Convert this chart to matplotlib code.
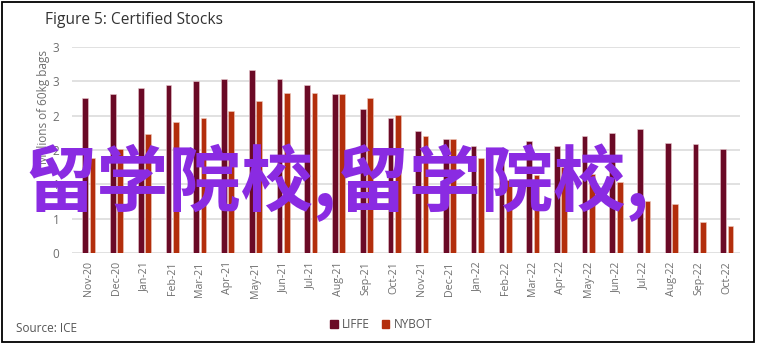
import matplotlib
matplotlib.use("Agg")
import matplotlib.pyplot as plt
import matplotlib.patches as mpatches
import numpy as np

# Certified stocks, millions of 60kg bags
months = ["Nov-20", "Dec-20", "Jan-21", "Feb-21", "Mar-21", "Apr-21", "May-21",
          "Jun-21", "Jul-21", "Aug-21", "Sep-21", "Oct-21", "Nov-21", "Dec-21",
          "Jan-22", "Feb-22", "Mar-22", "Apr-22", "May-22", "Jun-22", "Jul-22",
          "Aug-22", "Sep-22", "Oct-22"]
liffe = [2.25, 2.32, 2.40, 2.44, 2.50, 2.53, 2.67, 2.53, 2.44, 2.32, 2.09, 1.97,
         1.78, 1.66, 1.56, 1.53, 1.63, 1.56, 1.70, 1.75, 1.80, 1.60, 1.59, 1.52]
nybot = [1.39, 1.51, 1.74, 1.91, 1.97, 2.07, 2.21, 2.33, 2.33, 2.31, 2.26, 2.01,
         1.71, 1.66, 1.38, 1.07, 1.14, 1.25, 1.15, 1.04, 0.76, 0.71, 0.45, 0.40]
y_ticks = [0, 0.5, 1.0, 1.5, 2.0, 2.5, 3.0]
y_tick_labels = ["0", "1", "1", "2", "2", "3", "3"]
series_names = ["LIFFE", "NYBOT"]

LIFFE_COLOR = "#6B0A26"
NYBOT_COLOR = "#B32E0C"
GRID = "#D9D9D9"
TEXT_GREY = "#6E6E6E"
FONT = "Open Sans"

W, H = 758, 345
fig = plt.figure(figsize=(W / 100, H / 100), dpi=100)
fig.patch.set_facecolor("white")

def px(x0, y0, x1, y1):
    return [x0 / W, 1 - y1 / H, (x1 - x0) / W, (y1 - y0) / H]

ax = fig.add_axes(px(72, 47, 740, 253))

x = np.arange(len(months))
bw = 0.205
off = 0.132
ax.bar(x - off, liffe, width=bw, color=LIFFE_COLOR, edgecolor="#E9C9CF",
       linewidth=0.4, zorder=3, label=series_names[0])
ax.bar(x + off, nybot, width=bw, color=NYBOT_COLOR, edgecolor="#EFCBBE",
       linewidth=0.4, zorder=3, label=series_names[1])

ax.set_xlim(-0.61, 23.47)
ax.set_ylim(0, 3.0)
ax.set_yticks(y_ticks)
ax.set_yticklabels(y_tick_labels, fontsize=8.5, color=TEXT_GREY, family=FONT)
ax.set_xticks(x)
ax.set_xticklabels(months, rotation=90, fontsize=7.7, color=TEXT_GREY,
                   family=FONT, va="top")
ax.tick_params(axis="both", length=0)
ax.tick_params(axis="y", pad=9)
ax.tick_params(axis="x", pad=6)
for s in ax.spines.values():
    s.set_visible(False)
ax.yaxis.grid(True, color=GRID, linewidth=1.1, zorder=0)
ax.set_axisbelow(True)

fig.text(43.5 / W, 1 - 50 / H, "Millions of 60kg bags", rotation=90,
         ha="center", va="top", fontsize=8.5, color=TEXT_GREY, family=FONT)

fig.text(45 / W, 1 - 20 / H, "Figure 5: Certified Stocks", ha="left",
         va="center", fontsize=11.2, color="#333333", family=FONT)
fig.text(16 / W, 1 - 328 / H, "Source: ICE", ha="left", va="center",
         fontsize=8.5, color="#555555", family=FONT)

handles = [mpatches.Patch(color=LIFFE_COLOR), mpatches.Patch(color=NYBOT_COLOR)]
fig.legend(handles, series_names, loc="center", bbox_to_anchor=(381 / W, 1 - 325 / H),
           ncol=2, frameon=False, handlelength=0.65, handleheight=0.65,
           handletextpad=0.35, columnspacing=1.0, borderaxespad=0,
           prop={"family": FONT, "size": 8.5}, labelcolor="#555555")

# outer frame
fig.patches.append(mpatches.Rectangle((1.5 / W, 1 - 342 / H), (754 - 1.5) / W,
                                      (342 - 1.5) / H, transform=fig.transFigure,
                                      fill=False, edgecolor="black", linewidth=1.3))

# overlay caption
fig.text(24 / W, 1 - 183 / H, "留学院校,留学院校,", ha="left", va="center",
         fontsize=52, color="#8A2BE2", fontweight="bold",
         family=["Noto Sans CJK SC", "DejaVu Sans"], zorder=10)

fig.savefig("out.png", dpi=100, facecolor="white")
